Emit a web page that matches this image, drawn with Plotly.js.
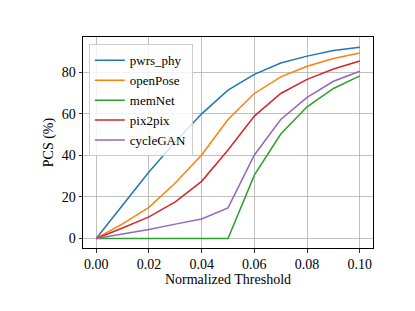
<!DOCTYPE html>
<html><head><meta charset="utf-8">
<script src="https://cdn.plot.ly/plotly-3.0.1.min.js"></script>
<style>body{margin:0;padding:0;background:#fff}</style>
</head><body>
<div id="chart" style="width:415px;height:311px"></div>
<script>
const thresholds = [0.00,0.01,0.02,0.03,0.04,0.05,0.06,0.07,0.08,0.09,0.10];
const pwrs_phy = [0,16,32,46.5,60,71.4,79,84.5,87.8,90.5,92.1];
const openPose = [0,7,15,26.7,40.2,57.3,69.8,77.8,82.9,86.6,89.3];
const memNet   = [0,0,0,0,0,0,30.5,50.3,63.4,72.2,78.3];
const pix2pix  = [0,5,10.4,17.6,27.5,42.6,58.9,69.8,76.6,81.6,85.4];
const cycleGAN = [0,2,4.3,6.9,9.4,14.7,40.2,57.3,67.9,75.7,80.5];
const seriesNames = ["pwrs_phy","openPose","memNet","pix2pix","cycleGAN"];
const seriesData = [pwrs_phy, openPose, memNet, pix2pix, cycleGAN];
const colors = ["#1f77b4","#ff7f0e","#2ca02c","#d62728","#9467bd"];
const xTicks = [0,0.02,0.04,0.06,0.08,0.10];
const xTickText = ["0.00","0.02","0.04","0.06","0.08","0.10"];
const yTicks = [0,20,40,60,80];

const traces = seriesNames.map((n,i)=>({
  x: thresholds, y: seriesData[i], name: n, type:'scatter', mode:'lines',
  line:{color:colors[i], width:1.5}
}));
const font = {family:'"Liberation Serif","DejaVu Serif",serif', color:'#000'};
const layout = {
  width:415, height:311,
  margin:{l:83, r:42, t:37, b:63},
  paper_bgcolor:'#fff', plot_bgcolor:'#fff',
  font:Object.assign({size:14}, font),
  showlegend:true,
  legend:{x:0.02, y:0.965, xanchor:'left', yanchor:'top',
    bgcolor:'rgba(255,255,255,0.8)', bordercolor:'#cccccc', borderwidth:1,
    font:Object.assign({size:13}, font), tracegroupgap:0},
  xaxis:{range:[-0.005,0.105], tickvals:xTicks, ticktext:xTickText,
    showgrid:true, gridcolor:'#b0b0b0', gridwidth:0.8,
    showline:true, linecolor:'#000', linewidth:1, mirror:true,
    ticks:'outside', ticklen:3.5, tickwidth:0.8, tickcolor:'#000',
    zeroline:false, tickfont:Object.assign({size:14}, font),
    title:{text:'Normalized Threshold', font:Object.assign({size:14}, font), standoff:2}},
  yaxis:{range:[-4.6,97], tickvals:yTicks,
    showgrid:true, gridcolor:'#b0b0b0', gridwidth:0.8,
    showline:true, linecolor:'#000', linewidth:1, mirror:true,
    ticks:'outside', ticklen:3.5, tickwidth:0.8, tickcolor:'#000',
    zeroline:false, tickfont:Object.assign({size:14}, font),
    title:{text:'PCS (%)', font:Object.assign({size:14}, font), standoff:4}}
};
Plotly.newPlot('chart', traces, layout, {displayModeBar:false, staticPlot:true});
</script>
</body></html>
